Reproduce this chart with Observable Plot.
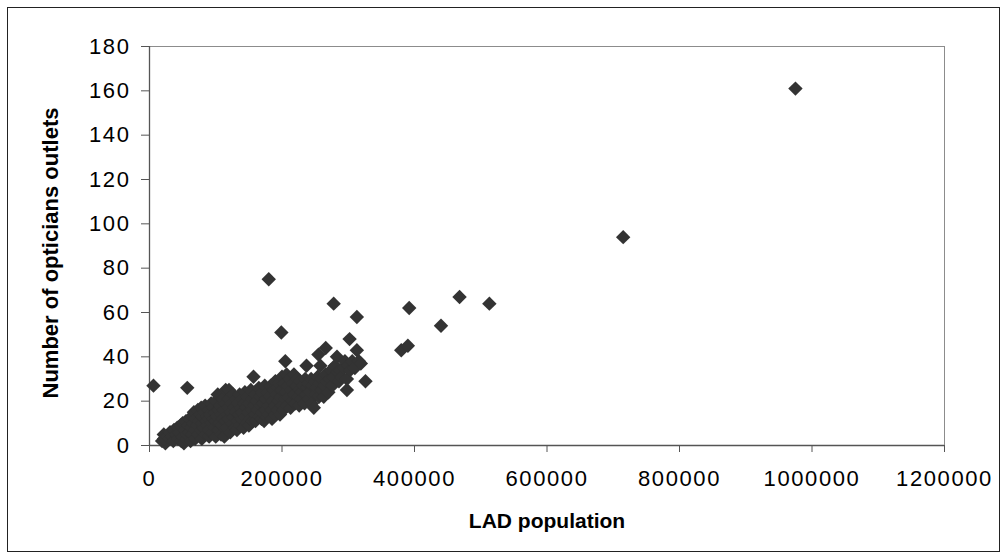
<!DOCTYPE html>
<html>
<head>
<meta charset="utf-8">
<script src="https://cdn.jsdelivr.net/npm/d3@7"></script>
<script src="https://cdn.jsdelivr.net/npm/@observablehq/plot@0.6"></script>
<style>
  html, body { margin: 0; padding: 0; background: #fff; }
  g[aria-label$="tick label"] text { letter-spacing: 1.6px; }
</style>
</head>
<body>
<div id="chart"></div>
<script>
const xTitle = "LAD population";
const yTitle = "Number of opticians outlets";
const xTicks = [0, 200000, 400000, 600000, 800000, 1000000, 1200000];
const yTicks = [0, 20, 40, 60, 80, 100, 120, 140, 160, 180];

const population = [
  19000, 21600, 24000, 22000, 27000, 30000, 31000, 34000, 36000, 37000,
  40000, 42000, 43000, 45000, 47000, 48000, 50000, 50000, 52000, 54000,
  55000, 56000, 57000, 58000, 60000, 60000, 62000, 63000, 64000, 65000,
  66000, 67000, 68000, 69000, 70000, 72000, 73000, 74000, 75000, 76000,
  77000, 78000, 79000, 80000, 80000, 82000, 83000, 84000, 85000, 86000,
  87000, 88000, 89000, 90000, 90000, 90000, 92000, 93000, 94000, 95000,
  96000, 97000, 98000, 99000, 100000, 100000, 100000, 102000, 103000, 104000,
  105000, 106000, 107000, 108000, 109000, 110000, 110000, 110000, 112000, 113000,
  114000, 115000, 115000, 117000, 118000, 120000, 119000, 120000, 120000, 122000,
  123000, 124000, 125000, 126000, 127000, 128000, 129000, 130000, 130000, 132000,
  133000, 134000, 135000, 136000, 137000, 138000, 139000, 140000, 140000, 142000,
  143000, 144000, 145000, 146000, 147000, 148000, 149000, 150000, 150000, 152000,
  153000, 154000, 155000, 156000, 157000, 158000, 159000, 160000, 160000, 162000,
  163000, 165000, 166000, 167000, 168000, 169000, 170000, 170000, 172000, 173000,
  174000, 175000, 176000, 177000, 178000, 180000, 180000, 180000, 182000, 183000,
  184000, 185000, 186000, 187000, 188000, 190000, 190000, 190000, 192000, 193000,
  194000, 195000, 196000, 197000, 198000, 199000, 200000, 200000, 200000, 202000,
  203000, 204000, 205000, 206000, 207000, 208000, 209000, 210000, 212000, 213000,
  214000, 216000, 217000, 218000, 219000, 220000, 222000, 223000, 225000, 226000,
  227000, 228000, 230000, 230000, 232000, 234000, 235000, 236000, 237000, 238000,
  240000, 240000, 242000, 244000, 245000, 246000, 248000, 250000, 250000, 252000,
  254000, 255000, 256000, 257000, 258000, 260000, 260000, 263000, 264000, 266000,
  266000, 268000, 270000, 272000, 274000, 276000, 278000, 278000, 280000, 283000,
  284000, 286000, 288000, 290000, 293000, 295000, 298000, 298000, 300000, 302000,
  303000, 306000, 310000, 313000, 313000, 316000, 319000, 326000,
  6000, 57000, 380000, 390000, 392000, 440000, 468000, 513000, 715000, 975000
];
const outlets = [
  2, 5, 1, 3, 4, 3, 6, 4, 2, 7,
  5, 8, 3, 6, 9, 2, 4, 10, 1, 7,
  11, 3, 5, 9, 12, 6, 2, 8, 13, 5,
  10, 15, 7, 3, 12, 9, 16, 5, 11, 14,
  7, 17, 3, 10, 13, 8, 15, 18, 5, 11,
  13, 9, 16, 4, 7, 12, 14, 19, 10, 6,
  17, 12, 8, 15, 20, 11, 4, 13, 23, 7,
  16, 10, 18, 5, 14, 21, 9, 12, 16, 4,
  19, 11, 25, 8, 14, 25, 17, 12, 21, 6,
  15, 19, 10, 23, 13, 17, 8, 21, 15, 7,
  11, 19, 14, 23, 9, 17, 12, 21, 15, 8,
  19, 24, 13, 17, 10, 22, 15, 9, 19, 12,
  25, 16, 21, 11, 31, 18, 14, 23, 11, 20,
  16, 26, 13, 22, 18, 12, 24, 15, 19, 11,
  27, 16, 21, 13, 24, 75, 18, 14, 22, 27,
  16, 12, 20, 25, 28, 18, 29, 14, 23, 26,
  16, 20, 28, 14, 22, 51, 18, 25, 31, 16,
  28, 21, 38, 24, 32, 18, 27, 22, 30, 17,
  25, 20, 28, 32, 23, 19, 27, 30, 22, 18,
  25, 29, 21, 24, 27, 19, 30, 23, 36, 26,
  21, 28, 24, 30, 19, 27, 17, 23, 29, 26,
  31, 41, 22, 28, 36, 25, 30, 22, 27, 44,
  32, 29, 24, 30, 34, 27, 64, 31, 36, 40,
  33, 29, 34, 31, 35, 38, 25, 30, 36, 48,
  34, 38, 35, 58, 43, 38, 37, 29,
  27, 26, 43, 45, 62, 54, 67, 64, 94, 161
];

const data = population.map((p, i) => ({population: p, outlets: outlets[i]}));

const chart = Plot.plot({
  width: 1007,
  height: 559,
  marginLeft: 149,
  marginRight: 63,
  marginTop: 46,
  marginBottom: 114,
  style: {fontFamily: "'Liberation Sans', Arial, sans-serif", fontSize: "22px", color: "#000", background: "#fff"},
  x: {domain: [0, 1200000]},
  y: {domain: [0, 180]},
  marks: [
    Plot.frame({stroke: "#8c8c8c"}),
    Plot.axisX({ticks: xTicks, tickSize: 7, tickPadding: 18, tickFormat: d => String(d), label: null, stroke: "#555"}),
    Plot.axisY({ticks: yTicks, tickSize: 8, tickPadding: 11, tickFormat: d => String(d), label: null, stroke: "#555"}),
    Plot.ruleX([0], {stroke: "#555", strokeWidth: 1.3}),
    Plot.ruleY([0], {stroke: "#555", strokeWidth: 1.3}),
    Plot.dot(data, {x: "population", y: "outlets", symbol: "diamond2", r: 6.5, fill: "#333333", stroke: "none"}),
    Plot.text([xTitle], {frameAnchor: "bottom", dy: 76, lineAnchor: "middle", textAnchor: "middle", fontWeight: "bold", fontSize: 21, fill: "#000"}),
    Plot.text([yTitle], {frameAnchor: "left", dx: -99, dy: 7, rotate: -90, lineAnchor: "middle", textAnchor: "middle", fontWeight: "bold", fontSize: 22, fill: "#000"})
  ]
});

d3.select(chart).append("rect")
  .attr("x", 7.5).attr("y", 7.5).attr("width", 992).attr("height", 544)
  .attr("fill", "none").attr("stroke", "#222").attr("stroke-width", 1);

document.getElementById("chart").appendChild(chart);
</script>
</body>
</html>
